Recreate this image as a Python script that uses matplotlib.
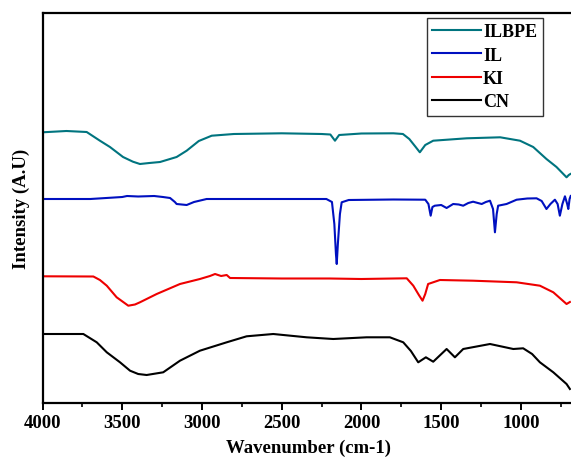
import matplotlib.pyplot as plt
from matplotlib.ticker import MultipleLocator

# FTIR spectra, intensity in arbitrary units (offset already applied)
wn_ilbpe = [4000, 3850, 3723, 3640, 3577, 3495, 3433, 3389, 3330, 3263, 3159, 3096, 3020, 2939,
            2800, 2500, 2250, 2195, 2166, 2140, 2000, 1800, 1740, 1700, 1660, 1634, 1600, 1550,
            1340, 1130, 1006, 923, 840, 777, 714, 700, 690]
ilbpe = [27.07, 27.2, 27.1, 26.23, 25.6, 24.6, 24.13, 23.9, 24.0, 24.1, 24.6, 25.23, 26.2, 26.73,
         26.9, 26.97, 26.9, 26.85, 26.23, 26.8, 26.95, 26.97, 26.9, 26.4, 25.6, 25.07, 25.8, 26.23,
         26.47, 26.57, 26.23, 25.6, 24.4, 23.6, 22.57, 22.8, 22.9]

wn_il = [4000, 3700, 3600, 3500, 3470, 3400, 3300, 3245, 3200, 3170, 3159, 3096, 3050, 2971,
         2500, 2220, 2185, 2170, 2160, 2155, 2148, 2135, 2124, 2080, 1800, 1600, 1580, 1566,
         1555, 1540, 1500, 1466, 1425, 1390, 1362, 1330, 1300, 1270, 1246, 1220, 1194, 1175,
         1163, 1152, 1143, 1090, 1027, 960, 902, 870, 840, 815, 787, 770, 756, 740, 724, 710,
         703, 695, 688]
il = [20.4, 20.4, 20.5, 20.6, 20.7, 20.65, 20.7, 20.6, 20.5, 20.1, 19.9, 19.8, 20.1, 20.4,
      20.4, 20.4, 20.1, 17.9, 14.9, 13.9, 15.9, 18.9, 20.07, 20.3, 20.35, 20.33, 19.9, 18.73,
      19.6, 19.73, 19.8, 19.5, 19.9, 19.85, 19.73, 20.0, 20.13, 20.0, 19.9, 20.1, 20.23, 19.4,
      17.07, 18.9, 19.73, 19.9, 20.33, 20.45, 20.47, 20.2, 19.4, 19.9, 20.33, 19.9, 18.73, 19.9,
      20.67, 19.9, 19.4, 20.4, 20.7]

wn_ki = [4000, 3681, 3640, 3597, 3535, 3462, 3420, 3389, 3284, 3138, 3013, 2950, 2918, 2880,
         2845, 2824, 2500, 2200, 2000, 1800, 1716, 1675, 1640, 1617, 1600, 1582, 1508, 1300,
         1027, 881, 797, 714, 693]
ki = [12.67, 12.65, 12.3, 11.73, 10.57, 9.73, 9.85, 10.07, 10.9, 11.9, 12.4, 12.7, 12.9, 12.7,
      12.8, 12.5, 12.45, 12.45, 12.4, 12.45, 12.47, 11.73, 10.8, 10.23, 10.9, 11.9, 12.3, 12.23,
      12.07, 11.73, 11.07, 9.9, 10.1]

wn_cn = [4000, 3744, 3660, 3597, 3514, 3451, 3400, 3347, 3243, 3138, 3013, 2845, 2720, 2553,
         2344, 2177, 1968, 1822, 1738, 1690, 1644, 1596, 1550, 1466, 1414, 1362, 1194, 1048,
         986, 930, 881, 797, 714, 693]
cn = [6.9, 6.9, 6.07, 5.07, 4.07, 3.23, 2.9, 2.8, 3.07, 4.23, 5.23, 6.07, 6.67, 6.9,
      6.57, 6.4, 6.57, 6.57, 6.07, 5.2, 4.07, 4.57, 4.13, 5.4, 4.57, 5.4, 5.9, 5.4,
      5.47, 4.9, 4.07, 3.07, 1.9, 1.4]

plt.rcParams['font.family'] = 'Liberation Serif'
plt.rcParams['font.weight'] = 'bold'

fig = plt.figure(figsize=(5.71, 4.60), dpi=100)
ax = fig.add_axes([42.5 / 571, 1 - 404 / 460, (575 - 42.5) / 571, (404 - 13.5) / 460])

ax.plot(wn_ilbpe, ilbpe, color='#00747f', lw=1.5, label='ILBPE')
ax.plot(wn_il, il, color='#0010c0', lw=1.5, label='IL')
ax.plot(wn_ki, ki, color='#ee0000', lw=1.5, label='KI')
ax.plot(wn_cn, cn, color='black', lw=1.5, label='CN')

ax.set_xlim(4000, 661)
ax.set_ylim(0, 39.05)
ax.xaxis.set_major_locator(MultipleLocator(500))
ax.xaxis.set_minor_locator(MultipleLocator(250))
ax.set_yticks([])
ax.tick_params(axis='x', which='major', direction='out', length=4.8, width=1.4,
               labelsize=13.5, pad=3)
ax.tick_params(axis='x', which='minor', direction='out', length=3, width=1.2)
for s in ax.spines.values():
    s.set_linewidth(1.6)

ax.set_xlabel('Wavenumber (cm-1)', fontsize=13.5, fontweight='bold', labelpad=6)
ax.set_ylabel('Intensity (A.U)', fontsize=13.5, fontweight='bold', labelpad=9)

leg = ax.legend(loc='upper left', bbox_to_anchor=(427 / 571, 1 - 19 / 460),
                bbox_transform=fig.transFigure, fontsize=13, handlelength=2.7,
                handletextpad=0.1, labelspacing=0.35, borderaxespad=0, borderpad=0.3,
                fancybox=False, framealpha=1)
leg.get_frame().set_edgecolor('#333333')
leg.get_frame().set_linewidth(1.0)

fig.savefig('out.png', dpi=100)
